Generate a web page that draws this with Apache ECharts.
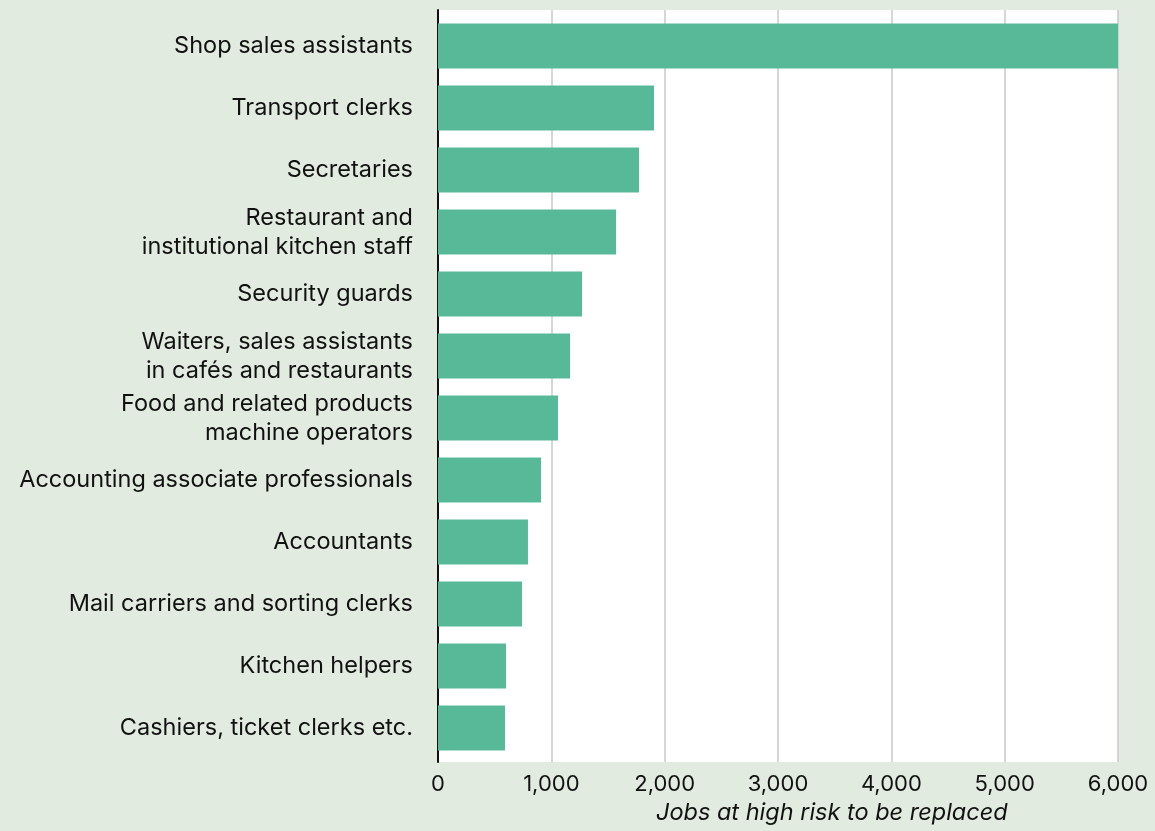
<!DOCTYPE html>
<html>
<head>
<meta charset="utf-8">
<script src="https://cdn.jsdelivr.net/npm/echarts@6/dist/echarts.min.js"></script>
<style>
html,body{margin:0;padding:0;background:#e2ebe0;}
#c{width:1155px;height:831px;}
</style>
</head>
<body>
<div id="c"></div>
<script>
const categories = [
  "Shop sales assistants",
  "Transport clerks",
  "Secretaries",
  "Restaurant and\ninstitutional kitchen staff",
  "Security guards",
  "Waiters, sales assistants\nin cafés and restaurants",
  "Food and related products\nmachine operators",
  "Accounting associate professionals",
  "Accountants",
  "Mail carriers and sorting clerks",
  "Kitchen helpers",
  "Cashiers, ticket clerks etc."
];
const jobs = [6000, 1906, 1774, 1571, 1271, 1165, 1059, 909, 794, 741, 600, 591];
const axisTitle = "Jobs at high risk to be replaced";

const chart = echarts.init(document.getElementById('c'), null, {renderer:'canvas'});
const font = 'Inter, "Noto Sans", sans-serif';
chart.setOption({
  backgroundColor: '#e2ebe0',
  animation: false,
  grid: [
    {left: 438, right: 37, top: 10, bottom: 69, show: true, backgroundColor: '#ffffff', borderWidth: 0},
    {left: 438, right: 37, top: 15, bottom: 72, show: false}
  ],
  xAxis: [{
    gridIndex: 0, type: 'value', min: 0, max: 6000, interval: 1000,
    axisLine: {show: false},
    axisTick: {show: false},
    splitLine: {show: true, lineStyle: {color: '#c8c8c8', width: 1.5}},
    axisLabel: {
      fontFamily: font, fontSize: 22, color: '#111', margin: 11,
      formatter: v => v.toLocaleString('en-US')
    }
  }, {
    gridIndex: 1, type: 'value', min: 0, max: 6000, interval: 1000,
    show: false
  }],
  yAxis: [{
    gridIndex: 0, type: 'category', data: [''],
    axisLine: {show: true, lineStyle: {color: '#111', width: 2}},
    axisTick: {show: false}, axisLabel: {show: false}, splitLine: {show: false}
  }, {
    gridIndex: 1, type: 'category', data: categories, inverse: true,
    axisLine: {show: false},
    axisTick: {show: false},
    axisLabel: {fontFamily: font, fontSize: 23.5, color: '#111', margin: 25, lineHeight: 29, align: 'right'}
  }],
  series: [{
    type: 'bar', data: jobs, xAxisIndex: 1, yAxisIndex: 1, barWidth: 45,
    itemStyle: {color: '#58b999'}, z: 3
  }],
  graphic: [{
    type: 'text', left: 656, top: 801,
    style: {text: axisTitle, font: 'italic 23.5px ' + font, fill: '#111'}
  }]
});
</script>
</body>
</html>
